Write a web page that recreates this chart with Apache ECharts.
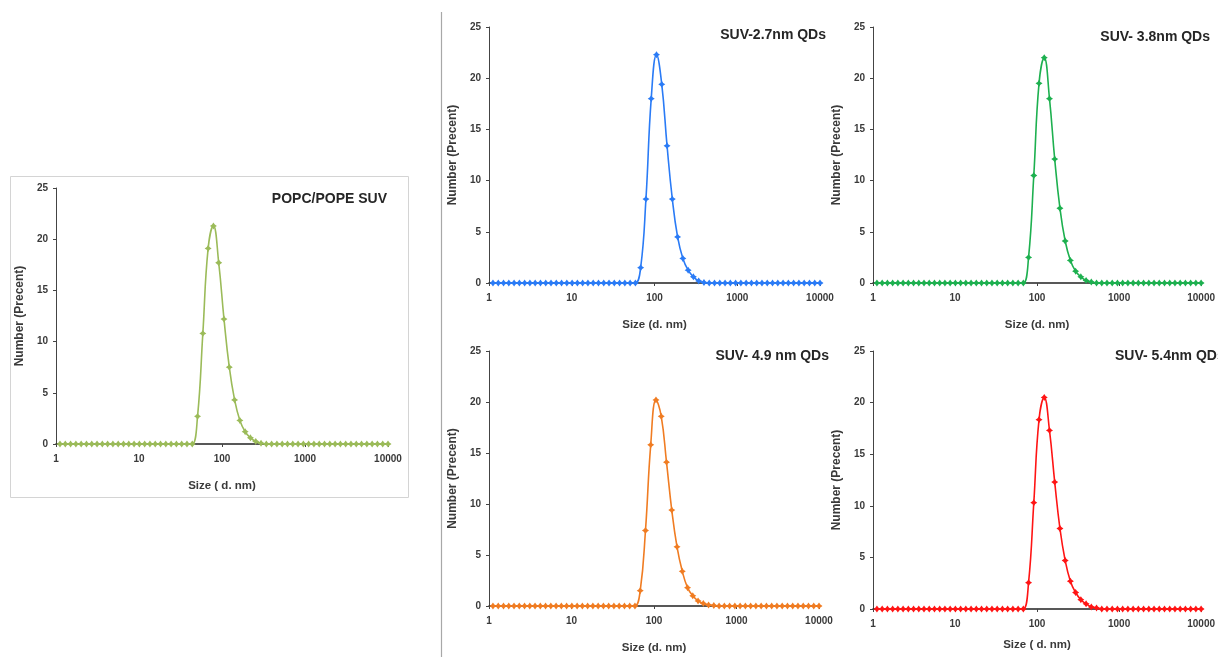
<!DOCTYPE html>
<html>
<head>
<meta charset="utf-8">
<script src="https://cdn.jsdelivr.net/npm/echarts@6/dist/echarts.min.js"></script>
<style>
html,body{margin:0;padding:0;background:#fff;}
#c{width:1218px;height:657px;}
</style>
</head>
<body>
<div id="c"></div>
<script>
// Size bins (d. nm), log-spaced
const sizes = [1.117,1.294,1.499,1.736,2.010,2.328,2.696,3.122,3.615,4.187,4.849,5.615,6.503,7.531,8.721,
  10.10,11.70,13.54,15.69,18.17,21.04,24.36,28.21,32.67,37.84,43.82,50.75,58.77,68.06,78.82,91.28,
  105.7,122.4,141.8,164.2,190.1,220.2,255.0,295.3,342.0,396.1,458.7,531.2,615.1,712.4,825.0,955.4,
  1106,1281,1484,1718,1990,2305,2669,3091,3580,4145,4801,5560,6439,7456,8635,10000];

const xTicks = [1, 10, 100, 1000, 10000];
const yTicks = [0, 5, 10, 15, 20, 25];

const titles = ["POPC/POPE SUV", "SUV-2.7nm QDs", "SUV- 3.8nm QDs", "SUV- 4.9 nm QDs", "SUV- 5.4nm QDs"];
const xNames = ["Size ( d. nm)", "Size (d. nm)", "Size (d. nm)", "Size (d. nm)", "Size ( d. nm)"];
const yName = "Number (Precent)";

const popc = [0,0,0,0,0,0,0,0,0,0,0,0,0,0,0,0,0,0,0,0,0,0,0,0,0,0,
  2.7,10.8,19.1,21.3,17.7,12.2,7.5,4.3,2.3,1.2,0.6,0.25,0.08,
  0,0,0,0,0,0,0,0,0,0,0,0,0,0,0,0,0,0,0,0,0,0,0,0,0];
const qd27 = [0,0,0,0,0,0,0,0,0,0,0,0,0,0,0,0,0,0,0,0,0,0,0,0,0,0,0,0,
  1.5,8.2,18.0,22.3,19.4,13.4,8.2,4.5,2.4,1.25,0.6,0.2,0.05,
  0,0,0,0,0,0,0,0,0,0,0,0,0,0,0,0,0,0,0,0,0,0];
const qd38 = [0,0,0,0,0,0,0,0,0,0,0,0,0,0,0,0,0,0,0,0,0,0,0,0,0,0,0,0,0,
  2.5,10.5,19.5,22.0,18.0,12.1,7.3,4.1,2.2,1.15,0.6,0.25,0.1,
  0,0,0,0,0,0,0,0,0,0,0,0,0,0,0,0,0,0,0,0,0];
const qd49 = [0,0,0,0,0,0,0,0,0,0,0,0,0,0,0,0,0,0,0,0,0,0,0,0,0,0,0,0,
  1.5,7.4,15.8,20.2,18.6,14.1,9.4,5.8,3.4,1.8,1.0,0.5,0.25,0.1,0.05,
  0,0,0,0,0,0,0,0,0,0,0,0,0,0,0,0,0,0,0,0];
const qd54 = [0,0,0,0,0,0,0,0,0,0,0,0,0,0,0,0,0,0,0,0,0,0,0,0,0,0,0,0,0,
  2.55,10.3,18.35,20.5,17.3,12.3,7.8,4.7,2.7,1.6,0.9,0.5,0.2,0.1,
  0,0,0,0,0,0,0,0,0,0,0,0,0,0,0,0,0,0,0,0];

const seriesValues = [popc, qd27, qd38, qd49, qd54];
const colors = ["#9BBB59", "#2A7BF6", "#1DB04F", "#F07C22", "#FF1414"];

const grids = [
  {left: 56, top: 188, width: 332, height: 256},
  {left: 489, top: 27, width: 331, height: 256},
  {left: 873, top: 27, width: 332, height: 256},
  {left: 489, top: 351, width: 330, height: 255},
  {left: 873, top: 351, width: 332, height: 258}
];
const xNameGaps = [36, 36, 36, 36, 30];
const titlePos = [
  {right: 831, top: 192},
  {right: 392, top: 28},
  {right: 8, top: 30},
  {right: 389, top: 349},
  {left: 1115, top: 349}
];

const FONT = "'Liberation Sans', Arial, sans-serif";
const textCol = "#3a3a3a";
const star = 'path://M0,-10 L4,-4 L10,0 L4,4 L0,10 L-4,4 L-10,0 L-4,-4 Z';

const option = {
  backgroundColor: '#fff',
  animation: false,
  title: titles.map((t, i) => Object.assign({
    text: t, padding: 0,
    textStyle: {fontFamily: FONT, fontWeight: 'bold', fontSize: 14, color: '#262626'}
  }, titlePos[i])),
  grid: grids,
  xAxis: grids.map((g, i) => ({
    type: 'log', logBase: 10, gridIndex: i, min: xTicks[0], max: xTicks[xTicks.length - 1],
    name: xNames[i], nameLocation: 'middle', nameGap: xNameGaps[i],
    nameTextStyle: {fontFamily: FONT, fontWeight: 'bold', fontSize: 11.5, color: textCol},
    axisLine: {show: true, lineStyle: {color: '#222', width: 1.5}},
    axisTick: {show: true, length: 3, lineStyle: {color: '#444'}},
    minorTick: {show: false},
    splitLine: {show: false},
    axisLabel: {fontFamily: FONT, fontWeight: 'bold', fontSize: 10, color: textCol, margin: 10,
      formatter: v => String(Math.round(v))}
  })),
  yAxis: grids.map((g, i) => ({
    type: 'value', gridIndex: i, min: yTicks[0], max: yTicks[yTicks.length - 1], interval: 5,
    name: yName, nameLocation: 'middle', nameGap: 30, nameRotate: 90,
    nameTextStyle: {fontFamily: FONT, fontWeight: 'bold', fontSize: 12, color: textCol},
    axisLine: {show: true, lineStyle: {color: '#444', width: 1}},
    axisTick: {show: true, length: 3, lineStyle: {color: '#444'}},
    splitLine: {show: false},
    axisLabel: {fontFamily: FONT, fontWeight: 'bold', fontSize: 10, color: textCol, margin: 8}
  })),
  series: seriesValues.map((vals, i) => ({
    type: 'line', xAxisIndex: i, yAxisIndex: i,
    data: sizes.map((s, k) => [s, vals[k]]),
    smooth: 0.45,
    symbol: star, symbolSize: 7, showSymbol: true,
    lineStyle: {color: colors[i], width: 1.6},
    itemStyle: {color: colors[i]},
    clip: true
  })),
  graphic: [
    {type: 'rect', shape: {x: 10.5, y: 176.5, width: 398, height: 321}, style: {fill: 'none', stroke: '#d4d4d4', lineWidth: 1}, z: -1},
    {type: 'line', shape: {x1: 441.5, y1: 12, x2: 441.5, y2: 657}, style: {stroke: '#a8a8a8', lineWidth: 1.2}}
  ]
};

const chart = echarts.init(document.getElementById('c'), null, {renderer: 'canvas'});
chart.setOption(option);
</script>
</body>
</html>
